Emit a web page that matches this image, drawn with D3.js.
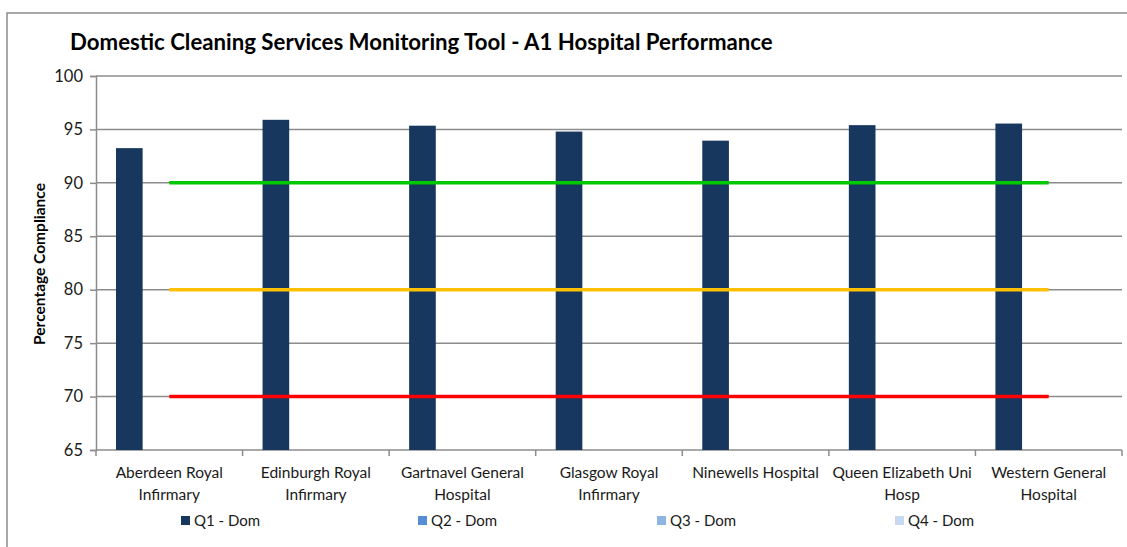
<!DOCTYPE html>
<html><head><meta charset="utf-8">
<script src="https://cdn.jsdelivr.net/npm/d3@7"></script>
<style>
body{margin:0;background:#fff;}
svg{display:block;font-family:Lato,"Open Sans",sans-serif;}
</style></head>
<body><svg id="chart" width="1127" height="547"></svg>
<script>
const title = "Domestic Cleaning Services Monitoring Tool - A1 Hospital Performance";
const yTitle = "Percentage Compliance";
const categories = ["Aberdeen Royal Infirmary","Edinburgh Royal Infirmary","Gartnavel General Hospital","Glasgow Royal Infirmary","Ninewells Hospital","Queen Elizabeth Uni Hosp","Western General Hospital"];
const categoryLines = [["Aberdeen Royal","Infirmary"],["Edinburgh Royal","Infirmary"],["Gartnavel General","Hospital"],["Glasgow Royal","Infirmary"],["Ninewells Hospital"],["Queen Elizabeth Uni","Hosp"],["Western General","Hospital"]];
const seriesNames = ["Q1 - Dom","Q2 - Dom","Q3 - Dom","Q4 - Dom"];
const q1 = [93.25, 95.9, 95.35, 94.8, 93.95, 95.4, 95.55];
const q2 = [null,null,null,null,null,null,null];
const q3 = [null,null,null,null,null,null,null];
const q4 = [null,null,null,null,null,null,null];
const target90 = [90,90,90,90,90,90,90];
const target80 = [80,80,80,80,80,80,80];
const target70 = [70,70,70,70,70,70,70];
const yTicks = [65,70,75,80,85,90,95,100];

const seriesColors = ["#17375e","#558ed5","#8eb4e3","#c6d9f1"];
const lineColors = ["#00c800","#ffc000","#ff0000"];

const svg = d3.select("#chart");
const plot = {left:96, top:76, right:1122, bottom:450};

function fit(sel, w){
  const n = sel.node(); const fs = parseFloat(sel.attr("font-size"));
  const len = n.getComputedTextLength(); sel.attr("font-size", fs*w/len);
}

svg.append("rect").attr("x",7).attr("y",13).attr("width",1140).attr("height",560)
  .attr("fill","none").attr("stroke","#8c8c8c").attr("stroke-width",1.5);

const x = d3.scaleBand().domain(categories).range([plot.left, plot.right]).paddingInner(0).paddingOuter(0);
const y = d3.scaleLinear().domain([65,100]).range([plot.bottom, plot.top]);
const bw = x.bandwidth();
const barW = bw/5.5;
const xs = d3.scaleBand().domain(seriesNames).range([0, barW*4]);

svg.append("g").selectAll("line").data(yTicks.filter(t=>t>65)).join("line")
  .attr("x1",plot.left).attr("x2",plot.right).attr("y1",d=>y(d)).attr("y2",d=>y(d))
  .attr("stroke","#8c8c8c").attr("stroke-width",1.5);

const yAxis = svg.append("g").attr("transform",`translate(${plot.left},0)`)
  .call(d3.axisLeft(y).tickValues(yTicks).tickSize(6).tickPadding(7).tickFormat(d3.format("d")));
yAxis.select(".domain").attr("stroke","#8c8c8c").attr("stroke-width",1.5);
yAxis.selectAll(".tick line").attr("stroke","#8c8c8c").attr("stroke-width",1.5);
yAxis.selectAll("text").attr("font-size",16.5).attr("fill","#1a1a1a").attr("font-family","Lato,sans-serif");

const xAxisG = svg.append("g").attr("transform",`translate(0,${plot.bottom})`);
xAxisG.append("line").attr("x1",plot.left).attr("x2",plot.right).attr("stroke","#8c8c8c").attr("stroke-width",1.5);
xAxisG.selectAll("line.tk").data(d3.range(categories.length+1)).join("line").attr("class","tk")
  .attr("x1",i=>plot.left+i*bw).attr("x2",i=>plot.left+i*bw).attr("y1",0).attr("y2",6)
  .attr("stroke","#8c8c8c").attr("stroke-width",1.5);

const allSeries = [q1,q2,q3,q4];
allSeries.forEach((vals,si)=>{
  svg.append("g").selectAll("rect").data(vals.map((v,i)=>({v,c:categories[i]})).filter(d=>d.v!=null)).join("rect")
    .attr("x",d=>x(d.c)+barW*0.75+xs(seriesNames[si]))
    .attr("width",xs.bandwidth())
    .attr("y",d=>y(d.v)).attr("height",d=>y(65)-y(d.v))
    .attr("fill",seriesColors[si]);
});

const line = d3.line().x((d,i)=>x(categories[i])+bw/2).y(d=>y(d));
[target90,target80,target70].forEach((t,i)=>{
  svg.append("path").attr("d",line(t)).attr("fill","none").attr("stroke",lineColors[i]).attr("stroke-width",3.5);
});

const cl = svg.append("g");
categoryLines.forEach((lines,i)=>{
  const t = cl.append("text").attr("x",x(categories[i])+bw/2).attr("y",478)
    .attr("text-anchor","middle").attr("font-size",15.5).attr("fill","#1a1a1a");
  lines.forEach((l,j)=>t.append("tspan").attr("x",x(categories[i])+bw/2).attr("dy",j?22:0).text(l));
});

const tt = svg.append("text").attr("x",70).attr("y",50).attr("font-size",21).attr("font-weight","bold")
  .attr("fill","#000").text(title);
fit(tt,703);

const yt = svg.append("text").attr("transform","translate(45,264) rotate(-90)").attr("text-anchor","middle")
  .attr("font-size",15).attr("font-weight","bold").attr("fill","#000").text(yTitle);
fit(yt,162);

const legX = [181,418,657,895];
const lg = svg.append("g");
seriesNames.forEach((s,i)=>{
  lg.append("rect").attr("x",legX[i]).attr("y",516).attr("width",9).attr("height",9).attr("fill",seriesColors[i]);
  lg.append("text").attr("x",legX[i]+13).attr("y",526).attr("font-size",15).attr("fill","#1a1a1a").text(s);
});
</script></body></html>
